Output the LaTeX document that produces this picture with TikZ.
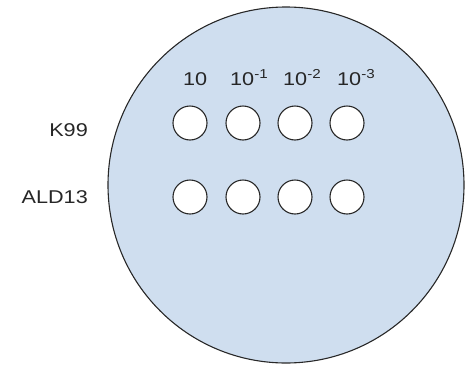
\documentclass[tikz,border=0pt]{standalone}
\usepackage{fontspec}
\setmainfont{Liberation Sans}
\definecolor{dish}{RGB}{207,222,239}
\definecolor{edge}{RGB}{40,40,40}
\begin{document}
\begin{tikzpicture}[x=1pt,y=-1pt,
  dishstyle/.style={draw=edge,fill=dish,line width=1.1pt},
  well/.style={circle,draw=edge,fill=white,line width=1.1pt,minimum size=34pt,inner sep=0pt},
  lbl/.style={inner sep=0pt,font=\fontsize{18.5}{20}\selectfont,text=black!85}]
\useasboundingbox (0,0) rectangle (466,370);
\filldraw[dishstyle] (286,185) circle[radius=178];
\foreach \x [count=\i] in {190,243,295,347}{
  \node[well] (a\i) at (\x,123) {};
  \node[well] (b\i) at (\x,197) {};
}
\node[lbl,anchor=base east] (k99) at (88,136) {\scalebox{1.17}[1]{K99}};
\node[lbl,anchor=base east] (ald) at (88,203) {\scalebox{1.17}[1]{ALD13}};
\node[lbl,anchor=base west] (c1) at (183,85) {\scalebox{1.17}[1]{10}};
\node[lbl,anchor=base west] (c2) at (230,85) {\scalebox{1.17}[1]{10\textsuperscript{-1}}};
\node[lbl,anchor=base west] (c3) at (283,85) {\scalebox{1.17}[1]{10\textsuperscript{-2}}};
\node[lbl,anchor=base west] (c4) at (337,85) {\scalebox{1.17}[1]{10\textsuperscript{-3}}};
\end{tikzpicture}
\end{document}
